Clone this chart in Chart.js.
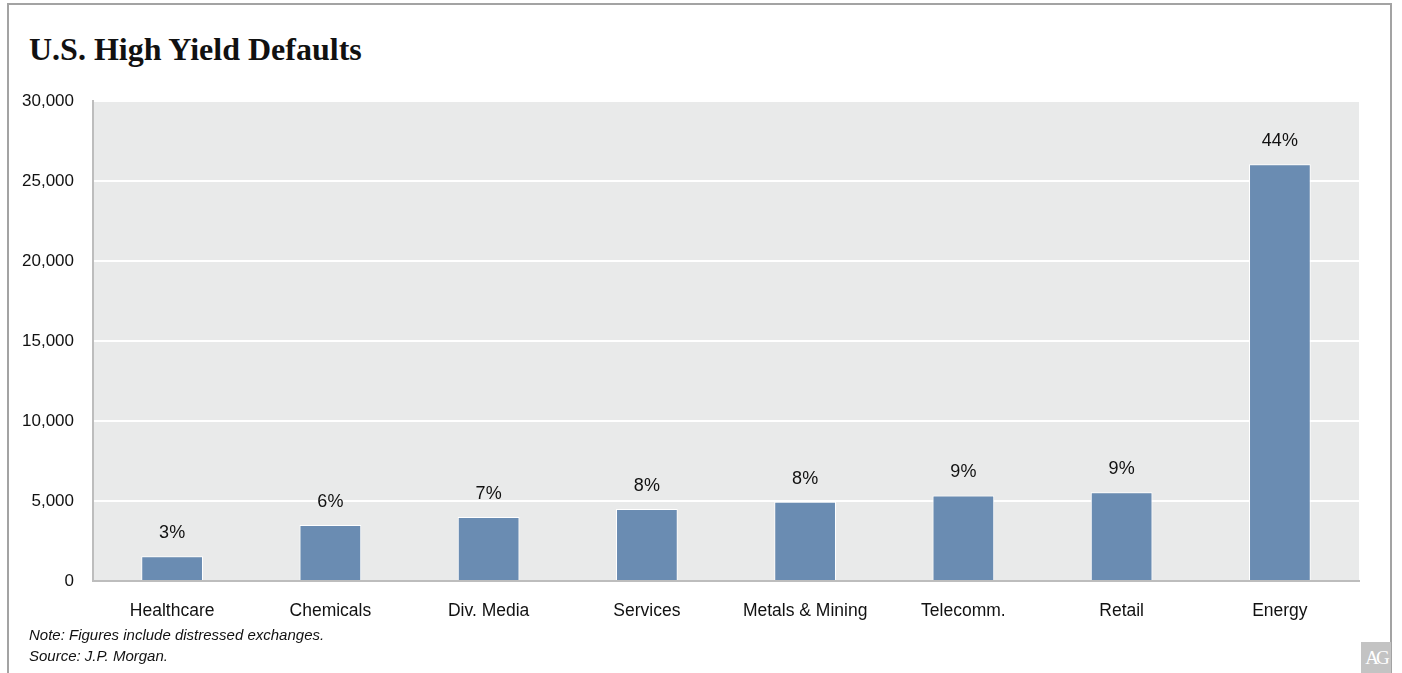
<!DOCTYPE html>
<html>
<head>
<meta charset="utf-8">
<script src="https://cdn.jsdelivr.net/npm/chart.js@4"></script>
<style>
    body { margin: 0; background: #fff; width: 1402px; height: 673px; overflow: hidden; position: relative; font-family: "Liberation Sans", Arial, sans-serif; }
    #cadre { position: absolute; left: 7px; top: 3px; width: 1385px; height: 700px; border: 2px solid #a3a3a3; box-sizing: border-box; }
    #titre { position: absolute; left: 29px; top: 31px; font-family: "Liberation Serif", "Times New Roman", serif; font-weight: bold; font-size: 32px; color: #111; white-space: nowrap; }
    #graphique { position: absolute; left: 0; top: 0; }
    .note { position: absolute; left: 29px; font-style: italic; font-size: 15px; color: #111; white-space: nowrap; }
    #logo { position: absolute; left: 1361px; top: 642px; width: 30px; height: 31px; background: #c3c3c3; color: #fff; font-family: "Liberation Serif", serif; font-size: 19px; line-height: 31px; text-align: center; letter-spacing: -3px; }
</style>
</head>
<body>
<div id="cadre"></div>
<div id="titre">U.S. High Yield Defaults</div>
<canvas id="graphique" width="1402" height="673"></canvas>
<div class="note" style="top: 626px;">Note: Figures include distressed exchanges.</div>
<div class="note" style="top: 647px;">Source: J.P. Morgan.</div>
<div id="logo">AG</div>
<script>
const secteurs = ['Healthcare', 'Chemicals', 'Div. Media', 'Services', 'Metals & Mining', 'Telecomm.', 'Retail', 'Energy'];
const defauts = [1550, 3500, 4000, 4500, 4950, 5350, 5550, 26050];
const parts = ['3%', '6%', '7%', '8%', '8%', '9%', '9%', '44%'];
const ticksY = [0, 5000, 10000, 15000, 20000, 25000, 30000];

// fond gris de la zone de tracé
const fondZone = {
    id: 'fondZone',
    beforeDraw(chart) {
        const { ctx, chartArea } = chart;
        ctx.save();
        ctx.fillStyle = '#e9eaea';
        ctx.fillRect(chartArea.left, chartArea.top, chartArea.right - chartArea.left, chartArea.bottom - chartArea.top);
        ctx.restore();
    }
};

// pourcentages au-dessus des barres
const etiquettes = {
    id: 'etiquettes',
    afterDatasetsDraw(chart) {
        const ctx = chart.ctx;
        const meta = chart.getDatasetMeta(0);
        ctx.save();
        ctx.font = '18px "Liberation Sans", Arial, sans-serif';
        ctx.fillStyle = '#111';
        ctx.textAlign = 'center';
        ctx.textBaseline = 'middle';
        meta.data.forEach((barre, i) => {
            ctx.fillText(parts[i], barre.x, barre.y - 23);
        });
        ctx.restore();
    }
};

new Chart(document.getElementById('graphique').getContext('2d'), {
    type: 'bar',
    data: {
        labels: secteurs,
        datasets: [{
            data: defauts,
            backgroundColor: '#6a8cb2',
            borderColor: '#ffffff',
            borderWidth: 1,
            barPercentage: 0.39,
            categoryPercentage: 1
        }]
    },
    options: {
        responsive: false,
        animation: false,
        layout: { padding: { left: 0, right: 43, top: 101, bottom: 0 } },
        plugins: { legend: { display: false }, tooltip: { enabled: false } },
        scales: {
            x: {
                grid: { display: false },
                border: { color: '#bdbdbd', width: 2 },
                ticks: { color: '#111', font: { family: '"Liberation Sans", Arial, sans-serif', size: 17.5 }, padding: 12, maxRotation: 0 },
                afterFit(scale) { scale.height = 92; }
            },
            y: {
                min: 0,
                max: 30000,
                afterBuildTicks(scale) { scale.ticks = ticksY.map(v => ({ value: v })); },
                grid: { color: '#ffffff', lineWidth: 2, drawTicks: false },
                border: { color: '#bdbdbd', width: 2 },
                ticks: {
                    color: '#111',
                    font: { family: '"Liberation Sans", Arial, sans-serif', size: 17 },
                    padding: 19,
                    callback: v => v.toLocaleString('en-US')
                },
                afterFit(scale) { scale.width = 93; }
            }
        }
    },
    plugins: [fondZone, etiquettes]
});
</script>
</body>
</html>
